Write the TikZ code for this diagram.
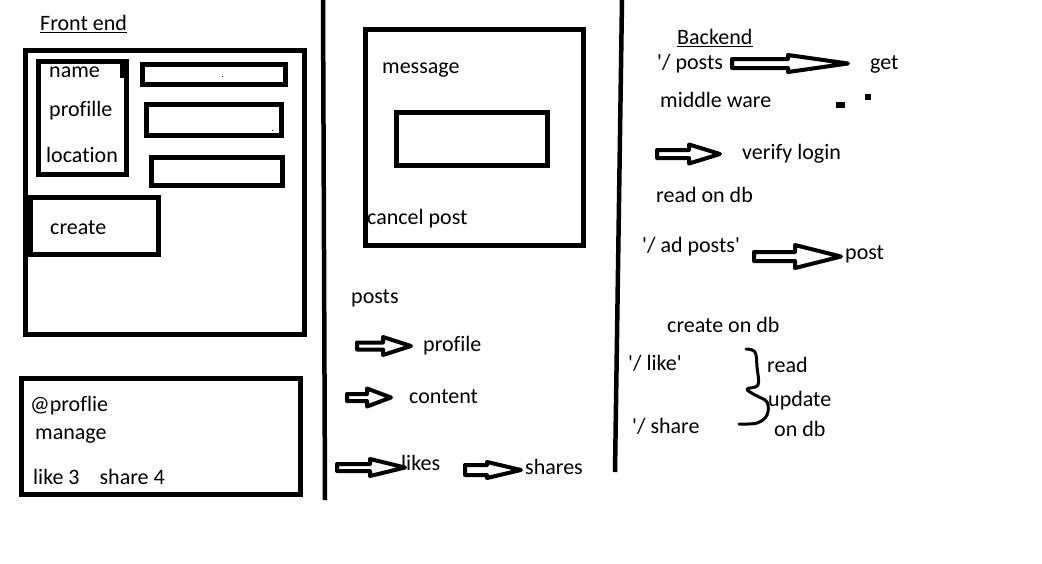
\documentclass[tikz,border=0pt]{standalone}
\usepackage{fontspec}
\setmainfont{Carlito}[Ligatures={TeXOff,NoCommon}]
\newcommand\myblockarrow[6]{%
  \draw[barrow] (#1,#4-#5) -- (#2,#4-#5) -- (#2,#4-#6) -- (#3,#4) -- (#2,#4+#6) -- (#2,#4+#5) -- (#1,#4+#5) -- cycle;}
\begin{document}
\begin{tikzpicture}[x=1pt,y=-1pt,
  txt/.style={anchor=west,inner sep=0pt,text height=16pt,text depth=4pt,font=\fontsize{22}{26}\selectfont},
  box/.style={draw,line width=5pt},
  divider/.style={line width=4.5pt},
  barrow/.style={draw,line width=4pt,line join=round},
  uline/.style={line width=1.6pt},
  brace/.style={line width=3pt,line cap=round,line join=round},
  speck/.style={fill=black}]
\useasboundingbox[fill=white] (0,0) rectangle (1042,563);

% dividers
\draw[divider] (323,0) -- (325,500);
\draw[divider] (622,0) -- (615,472);

% ---------- Front end ----------
\node[txt] (fe) at (40,24) {Front end};
\draw[uline] ([yshift=-2.5pt]fe.base west) -- ([yshift=-2.5pt]fe.base east);

\draw[box] (25.5,50.5) rectangle (304.5,334);
\draw[box] (38,61) rectangle (126,174);
\fill (120,61) rectangle (128,78);
\node[txt] (name) at (49,71) {name};
\node[txt] (profille) at (49,110) {profille};
\node[txt] (location) at (46,156) {location};
\draw[box] (142,64.5) rectangle (285,84.5);
\draw[box] (146,104.5) rectangle (281,135.5);
\draw[box] (151.5,157.5) rectangle (282.5,185.5);
\fill[speck] (222,76) rectangle (223.2,77.2);
\fill[speck] (272,130) rectangle (273.2,131.2);
\draw[box] (30.5,197.5) rectangle (158.5,254);
\node[txt] (create) at (50,228) {create};

\draw[box] (21.5,378.5) rectangle (300.5,494.5);
\node[txt] (atprof) at (30,405) {@proflie};
\node[txt] (manage) at (35,433) {manage};
\node[txt] (likeshare) at (33,478) {like 3\hspace{15pt} share 4};

% ---------- middle ----------
\draw[box] (365.5,29.5) rectangle (583.5,245.5);
\node[txt] (message) at (382,67) {message};
\draw[box] (396,112) rectangle (547,165);
\node[txt] (cancel) at (367,218) {cancel post};

\node[txt] (posts) at (351,297) {posts};
\myblockarrow{357}{383}{411}{346}{3.5}{9}
\node[txt] (profile) at (423,345) {profile};
\myblockarrow{347}{367}{391}{397.5}{3.5}{9}
\node[txt] (content) at (409,397) {content};
\myblockarrow{337}{370}{405}{467.5}{3.5}{8.5}
\node[txt] (likes) at (401,464) {likes};
\myblockarrow{465}{487}{521}{470}{5}{8}
\node[txt] (shares) at (525,468) {shares};

% ---------- Backend ----------
\node[txt] (be) at (677,38) {Backend};
\draw[uline] ([yshift=-2.5pt]be.base west) -- ([yshift=-2.5pt]be.base east);
\node[txt] (rposts) at (657,63) {'/ posts};
\myblockarrow{732}{788}{848}{63.5}{4.5}{8.5}
\node[txt] (get) at (870,63) {get};
\node[txt] (mw) at (660,101) {middle ware};
\fill (836,102) rectangle (845,108);
\fill (865,94) rectangle (871,100);
\myblockarrow{657}{689}{720}{154}{4}{9.5}
\node[txt] (verify) at (742,153) {verify login};
\node[txt] (readdb) at (656,196) {read on db};
\node[txt] (adposts) at (642,246) {'/ ad posts'};
\myblockarrow{754}{795}{841}{256.5}{4.5}{11.5}
\node[txt] (post) at (845,253) {post};
\node[txt] (createdb) at (667,326) {create on db};
\node[txt] (like) at (628,364) {'/ like'};
\node[txt] (share) at (632,427) {'/ share};
\draw[brace] plot[smooth,tension=0.6] coordinates {(746,349) (755,352) (757,367) (758,385) (747,389) (755,395) (767,402) (767,415) (757,423) (739,424)};
\node[txt] (read) at (767,366) {read};
\node[txt] (update) at (768,400) {update};
\node[txt] (ondb) at (774,430) {on db};
\end{tikzpicture}
\end{document}
